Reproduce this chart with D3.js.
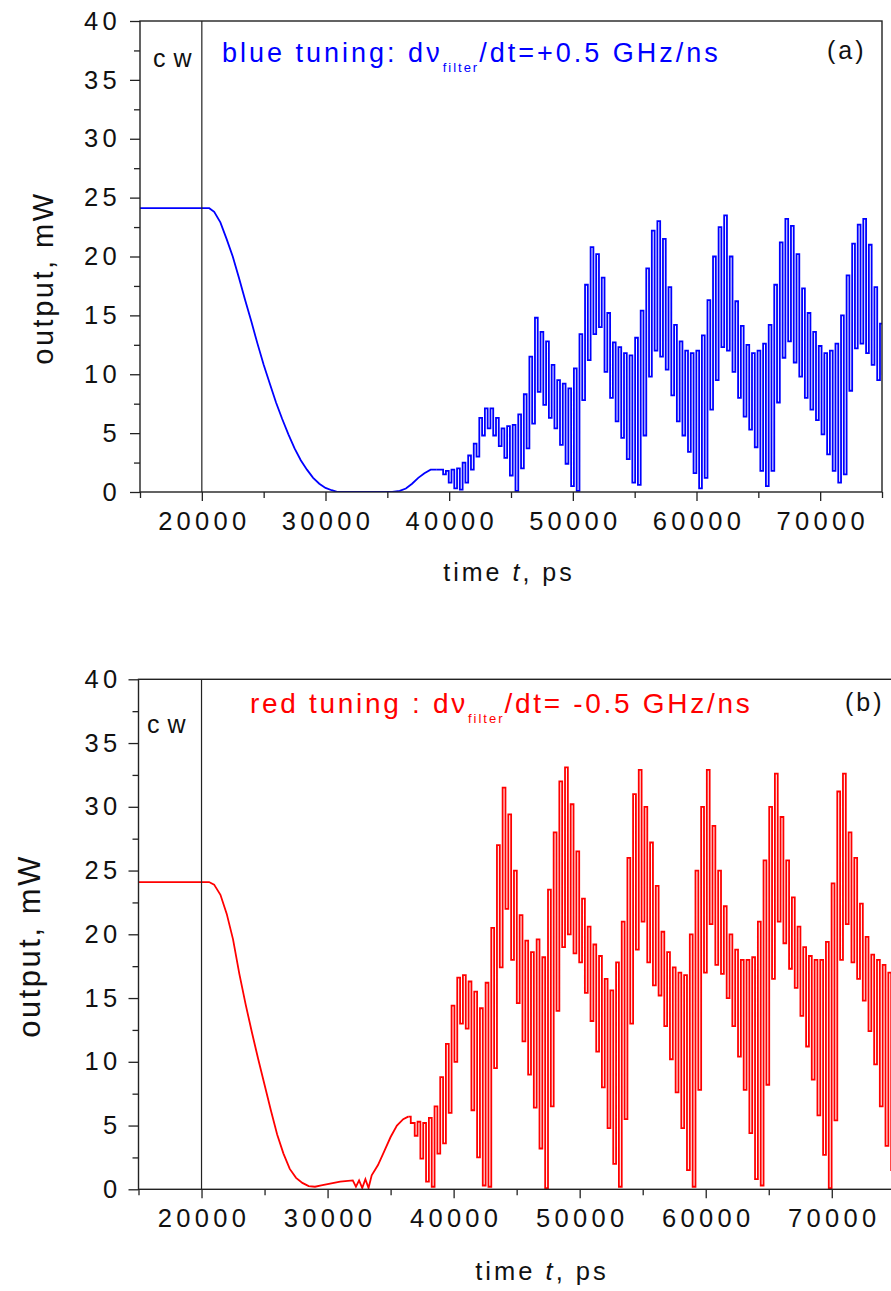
<!DOCTYPE html>
<html>
<head>
<meta charset="utf-8">
<script src="https://cdn.jsdelivr.net/npm/d3@7"></script>
<style>
  body { margin: 0; background: #fff; }
  svg { display: block; font-family: "Liberation Sans", Arial, sans-serif; }
</style>
</head>
<body>
<div id="chart"></div>
<script>
// ---------- values ----------
const timeDomain = [15000, 75000];
const powerDomain = [0, 40];
const timeTicks = [20000, 30000, 40000, 50000, 60000, 70000];
const timeMinorTicks = [15000, 25000, 35000, 45000, 55000, 65000, 75000];
const powerTicks = [0, 5, 10, 15, 20, 25, 30, 35, 40];
const powerMinorTicks = [2.5, 7.5, 12.5, 17.5, 22.5, 27.5, 32.5, 37.5];
const filterStart = 20000; // end of cw section

// (a) blue tuning, slow part
const blueSmoothTime = [15000, 20000, 20600, 21000, 21500, 22000, 22500, 23000, 23500, 24000,
    24500, 25000, 25500, 26000, 26500, 27000, 27500, 28000, 28500, 29000,
    29500, 30000, 30500, 31000, 35400, 36000, 36500, 37000, 37500, 38000, 38500, 39000];
const blueSmoothPower = [24.1, 24.1, 24.1, 23.8, 22.9, 21.5, 20.0, 18.2, 16.3, 14.5,
    12.6, 10.8, 9.2, 7.6, 6.2, 4.9, 3.7, 2.7, 1.9, 1.2,
    0.7, 0.35, 0.15, 0.0, 0.0, 0.1, 0.3, 0.7, 1.2, 1.6, 1.9, 1.9];
// (a) fast oscillation: one max and one min per cycle
const blueOscStart = 39400;
const blueOscStep = 450;
const blueOscHigh = [1.9, 1.8, 1.9, 2.0, 2.5, 3.1, 4.1, 6.3, 7.1, 7.1,
    6.3, 5.4, 5.6, 5.7, 6.6, 8.3, 11.5, 14.8, 13.6, 12.8,
    10.8, 9.5, 9.2, 8.8, 10.5, 13.4, 17.6, 20.8, 20.2, 18.2,
    15.2, 12.7, 12.3, 11.8, 11.6, 13.1, 15.4, 19.0, 22.2, 23.0,
    21.5, 17.4, 14.2, 12.8, 12.0, 11.8, 12.0, 13.3, 16.3, 20.0,
    22.5, 23.5, 20.0, 16.2, 14.1, 12.5, 11.8, 12.0, 12.6, 14.2,
    17.6, 21.2, 23.2, 22.6, 20.2, 17.3, 15.2, 13.6, 12.4, 11.8,
    12.0, 12.6, 15.0, 18.4, 21.1, 22.7, 23.2, 21.0, 17.4, 14.3];
const blueOscLow = [1.5, 0.8, 0.3, 0.2, 0.8, 1.9, 3.0, 4.8, 5.4, 4.8,
    3.9, 2.9, 1.4, 0.1, 2.0, 3.7, 5.8, 8.5, 7.4, 6.3,
    5.4, 4.0, 2.4, 0.5, 0.1, 7.8, 11.2, 13.4, 14.0, 10.2,
    8.0, 6.0, 4.6, 2.8, 0.8, 0.6, 4.8, 9.8, 12.0, 11.5,
    10.4, 8.2, 6.0, 4.8, 3.4, 1.6, 0.3, 1.2, 7.0, 9.5,
    12.3, 12.0, 10.2, 8.0, 6.4, 5.3, 3.8, 1.8, 0.5, 1.8,
    7.6, 11.4, 12.8, 11.0, 9.8, 8.0, 7.0, 6.1, 4.9, 3.2,
    1.8, 0.8, 1.5, 8.6, 12.2, 12.6, 11.8, 10.8, 9.5, 10.0];

// (b) red tuning, slow part
const redSmoothTime = [15000, 20000, 20600, 21000, 21500, 22000, 22500, 23000, 23500, 24000,
    24500, 25000, 25500, 26000, 26500, 27000, 27500, 28000, 28500, 29000,
    29500, 30000, 31000, 32000, 32250, 32500, 32750, 33000, 33250, 33500,
    34000, 34500, 35000, 35500, 36000, 36400];
const redSmoothPower = [24.1, 24.1, 24.1, 23.9, 23.1, 21.6, 19.6, 16.9, 14.5, 12.3,
    10.2, 8.2, 6.2, 4.3, 2.8, 1.6, 0.9, 0.5, 0.25, 0.2,
    0.3, 0.4, 0.6, 0.7, 0.2, 0.7, 0.1, 0.8, 0.1, 1.1,
    1.9, 3.0, 4.1, 5.0, 5.5, 5.7];
// (b) fast oscillation
const redOscStart = 36800;
const redOscStep = 450;
const redOscHigh = [5.2, 5.3, 5.2, 5.6, 6.5, 8.8, 11.4, 14.4, 16.6, 16.8,
    16.3, 15.5, 14.2, 16.2, 20.5, 27.0, 31.5, 29.4, 25.0, 21.5,
    19.5, 18.6, 19.6, 18.2, 23.5, 28.0, 32.0, 33.1, 30.2, 26.5,
    22.8, 20.6, 19.2, 18.3, 16.5, 15.6, 17.8, 21.0, 26.0, 31.0,
    32.9, 30.0, 27.2, 23.8, 20.2, 18.6, 17.4, 17.0, 16.8, 20.0,
    25.0, 30.0, 32.9, 28.5, 25.0, 22.2, 20.0, 18.8, 18.0, 18.0,
    18.2, 21.0, 25.8, 30.0, 32.6, 29.2, 25.8, 22.9, 20.6, 19.0,
    18.3, 18.0, 18.0, 19.4, 24.0, 31.2, 32.6, 28.0, 26.0, 22.4,
    19.8, 18.4, 18.0, 17.6, 17.0, 14.5];
const redOscLow = [4.2, 2.4, 0.6, 0.2, 2.8, 3.6, 6.0, 10.0, 13.0, 12.6,
    6.2, 2.5, 0.3, 0.2, 9.5, 17.4, 22.0, 18.0, 14.6, 11.6,
    9.0, 6.4, 3.2, 0.1, 6.5, 14.0, 19.0, 20.0, 18.5, 17.8,
    15.4, 13.2, 10.8, 8.0, 4.8, 2.0, 0.2, 5.5, 13.0, 18.8,
    21.0, 17.8, 16.0, 15.2, 12.8, 10.2, 7.6, 4.8, 1.5, 0.2,
    7.8, 17.0, 20.8, 17.6, 16.9, 15.0, 12.8, 10.4, 7.8, 4.4,
    0.8, 0.3, 8.2, 16.5, 21.0, 19.3, 17.3, 15.8, 13.6, 11.2,
    8.6, 5.8, 2.7, 0.1, 5.4, 18.0, 20.8, 17.8, 16.5, 14.8,
    12.4, 9.8, 6.5, 3.4, 1.5, 1.2];

// ---------- layout ----------
const panelA = {
    id: "a", left: 140, right: 882, top: 21, bottom: 492,
    yTickPad: 9, xTickPad: 11,
    yLabelX: 53, yLabelY: 278, yLabelSize: 29,
    xLabelX: 509, xLabelY: 581, xLabelSize: 25,
    cwX: 153, cwY: 67,
    noteX: 222, noteY: 62, noteSize: 27, noteSpacing: 3,
    tagX: 827, tagY: 59
};
const panelB = {
    id: "b", left: 138.5, right: 894.8, top: 679.3, bottom: 1189.3,
    yTickPad: 7, xTickPad: 11,
    yLabelX: 40, yLabelY: 946, yLabelSize: 31,
    xLabelX: 542, xLabelY: 1280, xLabelSize: 25.5,
    cwX: 147, cwY: 733,
    noteX: 250, noteY: 713, noteSize: 28, noteSpacing: 2.7,
    tagX: 845, tagY: 711
};

function smoothPoints(times, powers) {
    return times.map((t, i) => ({ time: t, power: powers[i] }));
}

function oscPoints(start, step, highs, lows) {
    const pts = [];
    highs.forEach((hi, i) => {
        const t = start + i * step;
        pts.push({ time: t, power: hi });
        pts.push({ time: t + step / 2, power: lows[i] });
    });
    return pts;
}

const svg = d3.select("#chart").append("svg")
    .attr("width", 891)
    .attr("height", 1291)
    .attr("viewBox", [0, 0, 891, 1291]);

class TracePanel {
    constructor(svg, dims, color, smooth, osc, note) {
        this.dims = dims;
        const { left, right, top, bottom } = dims;

        this.xScale = d3.scaleLinear().domain(timeDomain).range([left, right]);
        this.yScale = d3.scaleLinear().domain(powerDomain).range([bottom, top]);

        this.g = svg.append("g");

        this.g.append("clipPath").attr("id", "clip-" + dims.id)
            .append("rect")
            .attr("x", left).attr("y", top)
            .attr("width", right - left).attr("height", bottom - top);

        const trace = this.g.append("g")
            .attr("clip-path", `url(#clip-${dims.id})`)
            .attr("fill", "none")
            .attr("stroke", color)
            .attr("stroke-width", 1.8);

        // slow part: plain line
        const line = d3.line()
            .x(d => this.xScale(d.time))
            .y(d => this.yScale(d.power));
        trace.append("path").datum(smooth).attr("d", line);

        // fast part: sampled signal drawn as vertical strokes
        const stepLine = d3.line()
            .curve(d3.curveStep)
            .x(d => this.xScale(d.time))
            .y(d => this.yScale(d.power));
        trace.append("path")
            .datum([smooth[smooth.length - 1]].concat(osc))
            .attr("d", stepLine);

        // cw boundary
        this.g.append("line")
            .attr("x1", this.xScale(filterStart)).attr("x2", this.xScale(filterStart))
            .attr("y1", top).attr("y2", bottom)
            .attr("stroke", "#222").attr("stroke-width", 1.2);

        this.drawAxes();
        this.drawText(color, note);
    }

    drawAxes() {
        const { left, right, top, bottom, yTickPad, xTickPad } = this.dims;

        const styleAxis = sel => {
            sel.select(".domain").remove();
            sel.selectAll(".tick line").attr("stroke", "#222").attr("stroke-width", 1.3);
            sel.selectAll("text")
                .attr("fill", "#111")
                .style("font-size", "25.5px")
                .style("letter-spacing", "4.3px");
        };

        this.g.append("g")
            .attr("transform", `translate(0,${bottom})`)
            .call(d3.axisBottom(this.xScale).tickValues(timeMinorTicks)
                .tickSize(6).tickFormat(""))
            .call(styleAxis);
        this.g.append("g")
            .attr("transform", `translate(0,${bottom})`)
            .call(d3.axisBottom(this.xScale).tickValues(timeTicks)
                .tickSize(9).tickPadding(xTickPad).tickFormat(d3.format("d")))
            .call(styleAxis)
            .selectAll("text").attr("dx", 2);

        this.g.append("g")
            .attr("transform", `translate(${left},0)`)
            .call(d3.axisLeft(this.yScale).tickValues(powerMinorTicks)
                .tickSize(6).tickFormat(""))
            .call(styleAxis);
        this.g.append("g")
            .attr("transform", `translate(${left},0)`)
            .call(d3.axisLeft(this.yScale).tickValues(powerTicks)
                .tickSize(10).tickPadding(yTickPad).tickFormat(d3.format("d")))
            .call(styleAxis);

        // frame
        this.g.append("rect")
            .attr("x", left).attr("y", top)
            .attr("width", right - left).attr("height", bottom - top)
            .attr("fill", "none")
            .attr("stroke", "#222")
            .attr("stroke-width", 1.4);
    }

    drawText(color, note) {
        const d = this.dims;

        this.g.append("text")
            .attr("transform", `translate(${d.yLabelX},${d.yLabelY}) rotate(-90)`)
            .attr("text-anchor", "middle")
            .attr("fill", "#111")
            .style("font-size", d.yLabelSize + "px")
            .style("letter-spacing", "2.5px")
            .text("output, mW");

        const xl = this.g.append("text")
            .attr("x", d.xLabelX).attr("y", d.xLabelY)
            .attr("text-anchor", "middle")
            .attr("fill", "#111")
            .style("font-size", d.xLabelSize + "px")
            .style("letter-spacing", "3px");
        xl.append("tspan").text("time ");
        xl.append("tspan").style("font-style", "italic").text("t");
        xl.append("tspan").text(", ps");

        this.g.append("text")
            .attr("x", d.cwX).attr("y", d.cwY)
            .attr("fill", "#111")
            .style("font-size", "25px")
            .style("letter-spacing", "8px")
            .text("cw");

        const nt = this.g.append("text")
            .attr("x", d.noteX).attr("y", d.noteY)
            .attr("fill", color)
            .style("font-size", d.noteSize + "px")
            .style("letter-spacing", d.noteSpacing + "px");
        nt.append("tspan").text(note[0]);
        nt.append("tspan").attr("dy", 10)
            .style("font-size", "13px").style("letter-spacing", "2px")
            .text(note[1]);
        nt.append("tspan").attr("dy", -10).text(note[2]);

        this.g.append("text")
            .attr("x", d.tagX).attr("y", d.tagY)
            .attr("fill", "#111")
            .style("font-size", "25px")
            .style("letter-spacing", "3px")
            .text(`(${d.id})`);
    }
}

new TracePanel(svg, panelA, "#0000ff",
    smoothPoints(blueSmoothTime, blueSmoothPower),
    oscPoints(blueOscStart, blueOscStep, blueOscHigh, blueOscLow),
    ["blue tuning: d\u03bd", "filter", "/dt=+0.5 GHz/ns"]);

new TracePanel(svg, panelB, "#ff0000",
    smoothPoints(redSmoothTime, redSmoothPower),
    oscPoints(redOscStart, redOscStep, redOscHigh, redOscLow),
    ["red tuning : d\u03bd", "filter", "/dt= -0.5 GHz/ns"]);
</script>
</body>
</html>
